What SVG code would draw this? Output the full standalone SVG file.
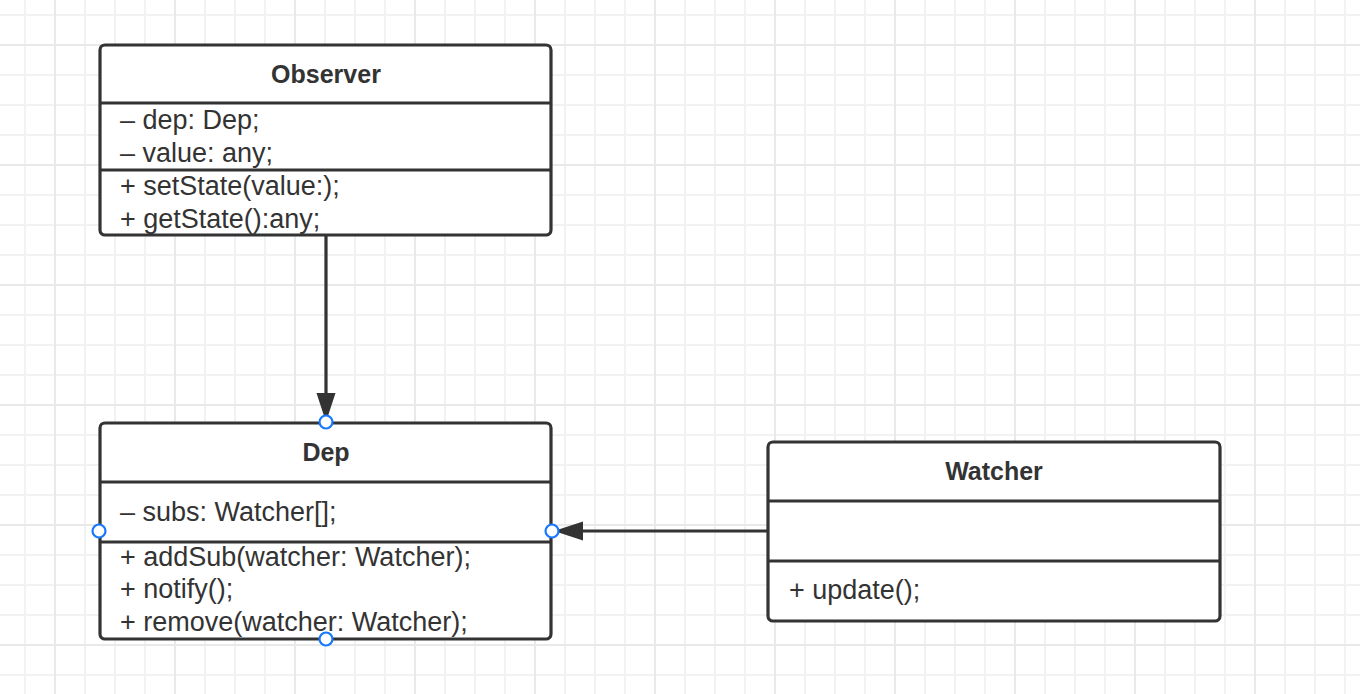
<svg xmlns="http://www.w3.org/2000/svg" width="1360" height="694" viewBox="0 0 1360 694">
<style>
.box{fill:#ffffff;stroke:#333333;stroke-width:3.2}
.div{stroke:#333333;stroke-width:3.2}
.title{font-family:"Liberation Sans",Arial,sans-serif;font-size:25px;font-weight:bold;fill:#333333;text-anchor:middle}
.item{font-family:"Liberation Sans",Arial,sans-serif;font-size:27px;fill:#333333}
.conn{fill:none;stroke:#333333;stroke-width:3.2}
.port{fill:#ffffff;stroke:#1677ff;stroke-width:2.2}
</style>
<defs>
<pattern id="gridThin" patternUnits="userSpaceOnUse" x="24" y="14" width="30" height="30">
<rect x="0" y="0" width="2" height="30" fill="#f2f2f2"/>
<rect x="0" y="0" width="30" height="2" fill="#f2f2f2"/>
</pattern>
<pattern id="gridThick" patternUnits="userSpaceOnUse" x="54" y="44" width="120" height="120">
<rect x="0" y="0" width="2" height="120" fill="#e9e9e9"/>
<rect x="0" y="0" width="120" height="2" fill="#e9e9e9"/>
</pattern>
<marker id="arrow" markerUnits="userSpaceOnUse" markerWidth="30" markerHeight="20" refX="27" refY="9.5" orient="auto">
<path d="M0,0 L29,9.5 L0,19 Z" fill="#333333"/>
</marker>
</defs>
<rect x="0" y="0" width="1360" height="694" fill="#ffffff"/>
<rect x="0" y="0" width="1360" height="694" fill="url(#gridThin)"/>
<rect x="0" y="0" width="1360" height="694" fill="url(#gridThick)"/>

<g id="connectors">
<path class="conn" d="M326,236 L326,420" marker-end="url(#arrow)"/>
<path class="conn" d="M768,531 L556,531" marker-end="url(#arrow)"/>
</g>

<g id="observer">
<rect class="box" x="100" y="45" width="451" height="190" rx="5"/>
<line class="div" x1="100" y1="103" x2="551" y2="103"/>
<line class="div" x1="100" y1="170" x2="551" y2="170"/>
<text class="title" x="326" y="83">Observer</text>
<text class="item" x="120" y="129">– dep: Dep;</text>
<text class="item" x="120" y="162">– value: any;</text>
<text class="item" x="120" y="195">+ setState(value:);</text>
<text class="item" x="120" y="228">+ getState():any;</text>
</g>

<g id="dep">
<rect class="box" x="100" y="423" width="451" height="216" rx="5"/>
<line class="div" x1="100" y1="482" x2="551" y2="482"/>
<line class="div" x1="100" y1="542" x2="551" y2="542"/>
<text class="title" x="326" y="461">Dep</text>
<text class="item" x="120" y="521">– subs: Watcher[];</text>
<text class="item" x="120" y="566">+ addSub(watcher: Watcher);</text>
<text class="item" x="120" y="598">+ notify();</text>
<text class="item" x="120" y="631">+ remove(watcher: Watcher);</text>
<circle class="port" cx="326" cy="422" r="6.5"/>
<circle class="port" cx="99" cy="531" r="6.5"/>
<circle class="port" cx="552" cy="531" r="6.5"/>
<circle class="port" cx="326" cy="639" r="6.5"/>
</g>

<g id="watcher">
<rect class="box" x="768" y="442" width="452" height="179" rx="5"/>
<line class="div" x1="768" y1="501" x2="1220" y2="501"/>
<line class="div" x1="768" y1="561" x2="1220" y2="561"/>
<text class="title" x="994" y="480">Watcher</text>
<text class="item" x="789" y="599">+ update();</text>
</g>
</svg>
